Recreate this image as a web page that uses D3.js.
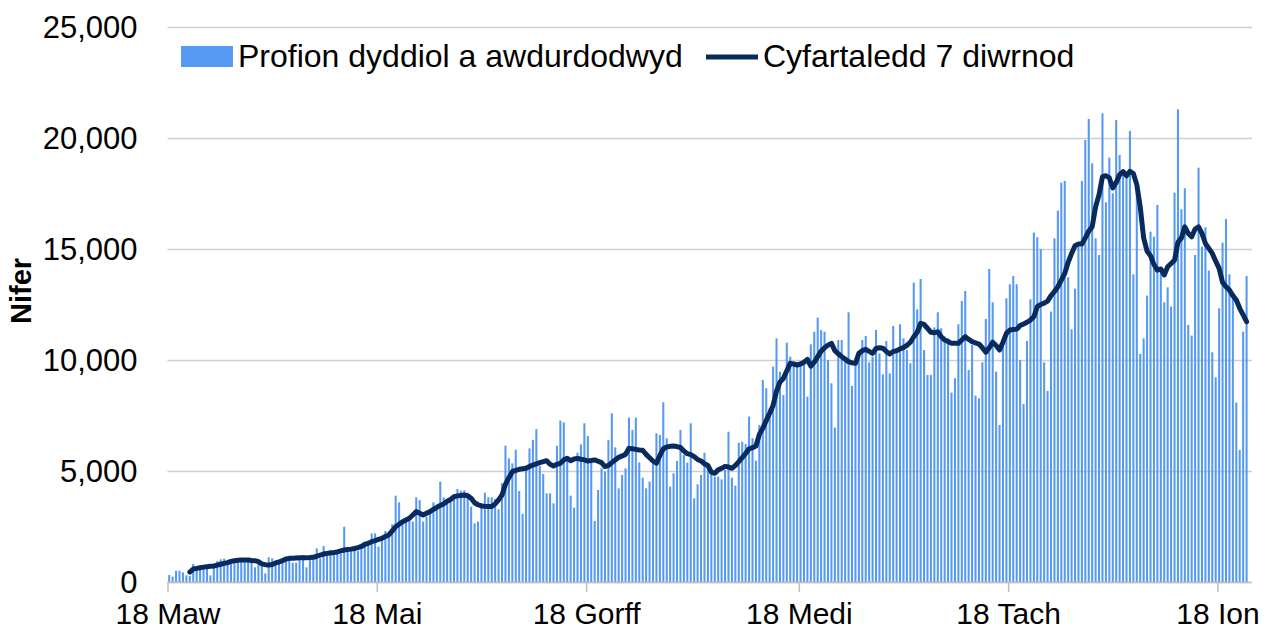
<!DOCTYPE html>
<html>
<head>
  <meta charset="UTF-8">
  <title>Profion dyddiol</title>
  <script src="https://d3js.org/d3.v7.min.js"></script>
  <style>
    body { margin: 0; background: #fff; }
    svg text { font-family: "Liberation Sans", Arial, sans-serif; fill: #000; }
  </style>
</head>
<body>
  <svg id="chart" width="1273" height="635"></svg>

  <script>
    // first day shown is 18 March 2020, one bar per day
    const startDay = "2020-03-18";

    const dailyTests = [
      315, 240, 510, 510, 435, 300, 270, 810, 585, 735,
      645, 690, 300, 660, 945, 1020, 1050, 795, 990, 990,
      960, 1020, 1020, 915, 960, 660, 810, 795, 390, 1110,
      1065, 840, 870, 990, 1065, 1095, 870, 870, 1095, 1215,
      660, 990, 1065, 1515, 1065, 1620, 1290, 1440, 1365, 1290,
      1290, 2490, 1365, 1440, 1440, 1395, 1665, 1815, 1740, 2190,
      2190, 1590, 1965, 2300, 2250, 2600, 3890, 3590, 2640, 2720,
      2790, 2720, 3815, 3695, 2720, 2945, 3245, 3590, 3320, 4520,
      3815, 3695, 3695, 3890, 4190, 4115, 4130, 4025, 3395, 2640,
      2720, 3545, 4025, 3815, 3815, 3740, 3275, 4445, 6140, 5570,
      5345, 5960, 4100, 3065, 5100, 6020, 6395, 6890, 5225, 4865,
      3995, 3995, 3545, 6140, 7270, 7190, 5495, 3890, 3350, 5825,
      6200, 7150, 6575, 5570, 2750, 4145, 5120, 4970, 6395, 7600,
      6065, 4220, 4820, 5120, 7405, 6850, 7405, 5390, 4700, 4220,
      4520, 5495, 6700, 6620, 8095, 6475, 4295, 4895, 5450, 6850,
      5720, 5375, 7150, 3770, 4400, 4820, 5825, 5120, 4895, 4745,
      4745, 4625, 5045, 6770, 4700, 4340, 6275, 6320, 6215, 7450,
      6475, 5465, 7075, 9100, 8725, 7825, 9700, 10975, 9475, 8425,
      10780, 10150, 9900, 9750, 9850, 9800, 8350, 10705, 11275, 11910,
      11350, 11275, 10000, 8950, 6955, 10900, 10900, 10000, 12150, 8830,
      10000, 10150, 10900, 11080, 9895, 10150, 11350, 10300, 9355, 10855,
      9400, 11535, 10450, 11610, 10975, 10450, 9850, 13485, 12285, 13650,
      10450, 9325, 9325, 11470, 12150, 11430, 11050, 10975, 8530, 9175,
      11610, 12660, 13110, 9550, 10675, 8395, 8275, 9895, 11850, 14100,
      12600, 9475, 7075, 10750, 12780, 13410, 13785, 13410, 10000, 8020,
      10855, 12735, 15740, 15530, 15000, 9895, 8605, 12180, 15480, 16730,
      17990, 18065, 13725, 11385, 13215, 15105, 18065, 19910, 20860, 18860,
      15480, 14730, 21115, 17105, 19115, 17510, 20815, 19235, 18485, 18260,
      20320, 13860, 17735, 10270, 10975, 12900, 15780, 15555, 16985, 13905,
      12600, 13275, 12405, 17540, 21295, 16790, 17735, 11580, 11100, 14730,
      18665, 15105, 15980, 14025, 10345, 9220, 12330, 15285, 16355, 13860,
      13005, 8080, 5945, 11275, 13785
    ];

    const sevenDayAvg = [
      null, null, null, null, null, null, 450, 585, 615, 645,
      670, 690, 705, 720, 760, 800, 840, 870, 930, 960,
      980, 990, 990, 990, 970, 960, 915, 820, 780, 765,
      790, 860, 900, 960, 1040, 1065, 1065, 1080, 1095, 1095,
      1095, 1100, 1110, 1160, 1215, 1260, 1290, 1310, 1330, 1355,
      1400, 1440, 1460, 1480, 1510, 1550, 1600, 1690, 1740, 1815,
      1860, 1920, 1970, 2050, 2120, 2300, 2490, 2600, 2715, 2790,
      2870, 3020, 3170, 3100, 3020, 3100, 3170, 3270, 3365, 3450,
      3520, 3640, 3720, 3840, 3880, 3900, 3920, 3880, 3770, 3570,
      3480, 3425, 3410, 3400, 3400, 3520, 3700, 3920, 4400, 4700,
      4970, 5030, 5075, 5100, 5120, 5200, 5270, 5320, 5375, 5420,
      5465, 5300, 5225, 5300, 5345, 5500, 5570, 5465, 5540, 5570,
      5530, 5500, 5450, 5470, 5500, 5440, 5375, 5200, 5250, 5375,
      5500, 5615, 5680, 5750, 6020, 6000, 5975, 5950, 5930, 5750,
      5600, 5450, 5350, 5700, 6000, 6080, 6110, 6125, 6100, 6060,
      5900, 5780, 5740, 5650, 5520, 5450, 5330, 5250, 4950, 4895,
      5050, 5120, 5210, 5180, 5120, 5250, 5420, 5600, 5790, 6000,
      6050, 6125, 6650, 6925, 7270, 7600, 7950, 8600, 9000, 9175,
      9520, 9850, 9820, 9775, 9820, 9900, 10030, 9720, 9900, 10150,
      10400, 10550, 10670, 10750, 10420, 10280, 10150, 10040, 9925, 9870,
      9850, 10300, 10420, 10480, 10390, 10300, 10520, 10550, 10530, 10380,
      10270, 10380, 10420, 10500, 10560, 10660, 10800, 11050, 11250, 11650,
      11600, 11430, 11250, 11230, 11270, 11050, 10900, 10830, 10750, 10750,
      10750, 10900, 11050, 10930, 10825, 10770, 10720, 10550, 10350, 10550,
      10800, 10650, 10450, 10800, 11200, 11350, 11370, 11390, 11550, 11620,
      11700, 11800, 11950, 12400, 12500, 12560, 12650, 12900, 13080, 13300,
      13600, 13900, 14400, 14800, 15150, 15225, 15225, 15500, 15800, 16005,
      16900, 17450, 18260, 18300, 18200, 17750, 18000, 18350, 18485, 18300,
      18500, 18400, 17900, 16900, 15500, 14900, 14700, 14300, 14050, 14100,
      13830, 14200, 14350, 14500, 15300, 15500, 16000, 15700, 15550, 15900,
      16000, 15700, 15250, 15030, 14800, 14450, 14130, 13500, 13300, 13150,
      12900, 12700, 12330, 12030, 11725
    ];

    const tickDates = ["2020-03-18", "2020-05-18", "2020-07-18", "2020-09-18", "2020-11-18", "2021-01-18"];
    const tickLabels = ["18 Maw", "18 Mai", "18 Gorff", "18 Medi", "18 Tach", "18 Ion"];
    const yTicks = [0, 5000, 10000, 15000, 20000, 25000];

    const seriesNames = ["Profion dyddiol a awdurdodwyd", "Cyfartaledd 7 diwrnod"];
    const barColor = "#5599f5";
    const lineColor = "#082a5c";

    const svg = d3.select("#chart");
    const plot = { left: 167.5, right: 1248.3, top: 27, bottom: 582, gridEnd: 1252 };

    const parse = d3.utcParse("%Y-%m-%d");
    const day0 = parse(startDay);
    const days = dailyTests.map((v, i) => d3.utcDay.offset(day0, i));
    const dayEnd = d3.utcDay.offset(day0, dailyTests.length);

    const x = d3.scaleUtc().domain([day0, dayEnd]).range([plot.left, plot.right]);
    const step = (plot.right - plot.left) / dailyTests.length;
    const y = d3.scaleLinear().domain([0, 25000]).range([plot.bottom, plot.top]);

    // y axis with grid lines
    const yAxis = svg.append("g")
        .attr("transform", "translate(" + plot.left + ",0)")
        .call(d3.axisLeft(y)
            .tickValues(yTicks)
            .tickFormat(d3.format(","))
            .tickSize(-(plot.gridEnd - plot.left))
            .tickPadding(30));
    yAxis.select(".domain").remove();
    yAxis.selectAll("line").attr("stroke", "#cfcfcf").attr("stroke-width", 1.5);
    yAxis.selectAll("text").style("font-size", "31px").attr("dy", "0.34em");

    // bars
    const barW = step * 0.6;
    svg.append("g").selectAll("rect")
        .data(dailyTests)
        .join("rect")
        .attr("x", (d, i) => x(days[i]) + (step - barW) / 2)
        .attr("y", d => y(d))
        .attr("width", barW)
        .attr("height", d => y(0) - y(d))
        .attr("fill", barColor);

    // x axis
    const xAxis = svg.append("g")
        .attr("transform", "translate(0," + plot.bottom + ")")
        .call(d3.axisBottom(x)
            .tickValues(tickDates.map(parse))
            .tickFormat((d, i) => tickLabels[i])
            .tickSize(10)
            .tickSizeOuter(0)
            .tickPadding(11));
    xAxis.select(".domain").attr("stroke", "#bfbfbf").attr("stroke-width", 1.5)
        .attr("d", "M" + plot.left + ",0.5H" + plot.gridEnd);
    xAxis.selectAll(".tick line").attr("stroke", "#bfbfbf").attr("stroke-width", 1.5);
    xAxis.selectAll("text").style("font-size", "30px");

    // 7 day average line
    const line = d3.line()
        .defined(d => d != null)
        .x((d, i) => x(days[i]) + step / 2)
        .y(d => y(d));

    svg.append("path")
        .datum(sevenDayAvg)
        .attr("d", line)
        .attr("fill", "none")
        .attr("stroke", lineColor)
        .attr("stroke-width", 5)
        .attr("stroke-linejoin", "round")
        .attr("stroke-linecap", "round");

    // y axis title
    svg.append("text")
        .attr("transform", "translate(31,291) rotate(-90)")
        .attr("text-anchor", "middle")
        .style("font-size", "29px")
        .style("font-weight", "bold")
        .text("Nifer");

    // legend
    const legend = svg.append("g");
    legend.append("rect")
        .attr("x", 181).attr("y", 46)
        .attr("width", 52).attr("height", 21)
        .attr("fill", barColor);
    legend.append("text")
        .attr("x", 238).attr("y", 67)
        .style("font-size", "32px")
        .text(seriesNames[0]);
    legend.append("line")
        .attr("x1", 706).attr("x2", 758)
        .attr("y1", 57).attr("y2", 57)
        .attr("stroke", lineColor)
        .attr("stroke-width", 5);
    legend.append("text")
        .attr("x", 763).attr("y", 67)
        .style("font-size", "32px")
        .text(seriesNames[1]);
  </script>
</body>
</html>
